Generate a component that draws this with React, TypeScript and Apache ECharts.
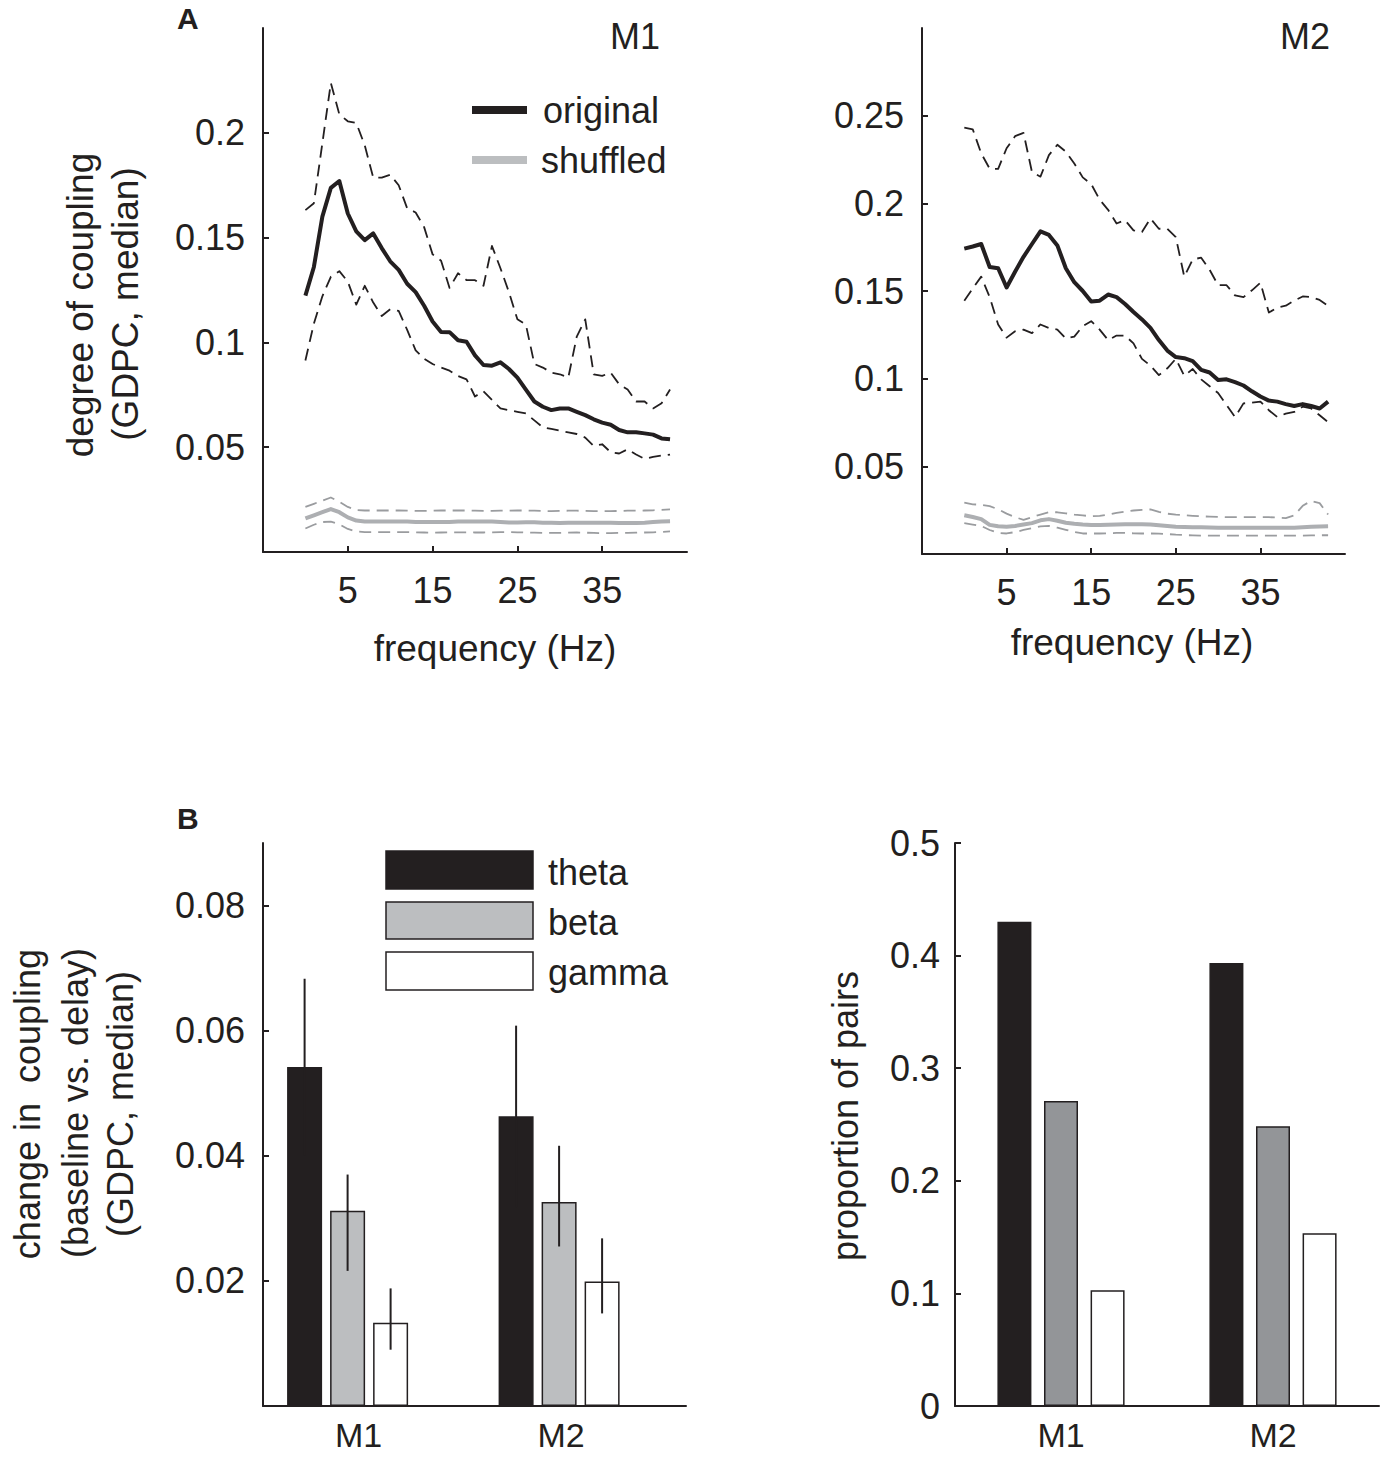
import React, { useEffect, useRef } from 'react';
import * as echarts from 'echarts';

const FONT = 'Liberation Sans, Arial, Helvetica, sans-serif';
const INK = '#231f20';
const GRAY_SOLID = '#adafb2';
const GRAY_DASH = '#9a9c9f';

// frequency (Hz)
const FREQS = [0, 1, 2, 3, 4, 5, 6, 7, 8, 9, 10, 11, 12, 13, 14, 15, 16, 17, 18, 19, 20, 21, 22, 23, 24, 25, 26, 27, 28, 29, 30, 31, 32, 33, 34, 35, 36, 37, 38, 39, 40, 41, 42, 43];
const FREQ_TICKS = [5, 15, 25, 35];

// M1
const M1_ORIG = [0.1223, 0.136, 0.160, 0.1737, 0.177, 0.1615, 0.153, 0.1488, 0.152, 0.145, 0.1387, 0.1346, 0.128, 0.124, 0.1175, 0.110, 0.105, 0.1049, 0.101, 0.1003, 0.0938, 0.0892, 0.0889, 0.0905, 0.0873, 0.0832, 0.0775, 0.0718, 0.0693, 0.0677, 0.0685, 0.0685, 0.0669, 0.0653, 0.0633, 0.0617, 0.0607, 0.0582, 0.0571, 0.0571, 0.0566, 0.056, 0.0542, 0.0538];
const M1_ORIG_HI = [0.1631, 0.1664, 0.195, 0.2238, 0.2088, 0.2055, 0.2047, 0.194, 0.1786, 0.1786, 0.18, 0.175, 0.164, 0.162, 0.155, 0.142, 0.139, 0.126, 0.133, 0.1297, 0.1297, 0.127, 0.146, 0.1354, 0.124, 0.111, 0.1085, 0.0897, 0.088, 0.0856, 0.0848, 0.0832, 0.1028, 0.111, 0.0848, 0.084, 0.0856, 0.080, 0.0775, 0.0718, 0.0718, 0.0685, 0.071, 0.0775];
const M1_ORIG_LO = [0.0914, 0.109, 0.122, 0.1313, 0.134, 0.129, 0.118, 0.127, 0.119, 0.1126, 0.1158, 0.115, 0.106, 0.0962, 0.0922, 0.0897, 0.088, 0.0865, 0.084, 0.0824, 0.0742, 0.0767, 0.0726, 0.0685, 0.0677, 0.0669, 0.0661, 0.0628, 0.0595, 0.0587, 0.0579, 0.0571, 0.0563, 0.0546, 0.0506, 0.0514, 0.0476, 0.047, 0.049, 0.0465, 0.0444, 0.0454, 0.046, 0.0465];
const M1_SHUF = [0.016, 0.0175, 0.019, 0.0205, 0.019, 0.0165, 0.015, 0.0145, 0.0145, 0.0145, 0.0145, 0.0145, 0.0145, 0.0143, 0.0143, 0.0143, 0.0143, 0.0143, 0.0145, 0.0146, 0.0146, 0.0146, 0.0145, 0.0143, 0.0141, 0.0141, 0.0142, 0.0142, 0.014, 0.0139, 0.0138, 0.0139, 0.014, 0.014, 0.014, 0.0139, 0.0139, 0.0138, 0.0138, 0.0138, 0.014, 0.0143, 0.0146, 0.0147];
const M1_SHUF_HI = [0.0215, 0.023, 0.0245, 0.026, 0.024, 0.0215, 0.02, 0.0198, 0.0198, 0.0198, 0.0198, 0.0198, 0.0197, 0.0196, 0.0196, 0.0197, 0.0198, 0.0198, 0.0198, 0.0198, 0.0197, 0.0196, 0.0196, 0.0197, 0.0197, 0.0198, 0.0198, 0.0197, 0.0196, 0.0195, 0.0196, 0.0197, 0.0197, 0.0196, 0.0195, 0.0195, 0.0195, 0.0196, 0.0197, 0.0197, 0.0198, 0.0199, 0.0201, 0.0203];
const M1_SHUF_LO = [0.0112, 0.013, 0.0143, 0.0145, 0.0132, 0.011, 0.0098, 0.0095, 0.0095, 0.0095, 0.0095, 0.0095, 0.0095, 0.0094, 0.0093, 0.0092, 0.0093, 0.0094, 0.0094, 0.0094, 0.0093, 0.0093, 0.0094, 0.0095, 0.0095, 0.0094, 0.0093, 0.0092, 0.0091, 0.0091, 0.0091, 0.0092, 0.0093, 0.0092, 0.0091, 0.009, 0.009, 0.0091, 0.0091, 0.0092, 0.0093, 0.0094, 0.0096, 0.0098];

// M2
const M2_ORIG = [0.1742, 0.1754, 0.1768, 0.1637, 0.163, 0.152, 0.161, 0.1695, 0.1768, 0.184, 0.182, 0.176, 0.163, 0.155, 0.150, 0.144, 0.1445, 0.148, 0.1465, 0.1426, 0.138, 0.1338, 0.129, 0.122, 0.116, 0.1123, 0.1117, 0.110, 0.105, 0.1035, 0.0992, 0.0996, 0.098, 0.0961, 0.0928, 0.0898, 0.0875, 0.0869, 0.0855, 0.0844, 0.0855, 0.0844, 0.083, 0.0869];
const M2_ORIG_HI = [0.2432, 0.2422, 0.2285, 0.2197, 0.2197, 0.2314, 0.2383, 0.2402, 0.2178, 0.2152, 0.2275, 0.2334, 0.2295, 0.2227, 0.2148, 0.211, 0.2021, 0.1963, 0.1885, 0.1904, 0.1846, 0.1836, 0.1914, 0.1855, 0.1855, 0.1807, 0.1582, 0.168, 0.169, 0.1621, 0.1533, 0.1533, 0.1475, 0.1465, 0.1504, 0.1547, 0.1377, 0.1406, 0.1416, 0.1445, 0.1469, 0.1465, 0.1449, 0.1416];
const M2_ORIG_LO = [0.1445, 0.1514, 0.1582, 0.1465, 0.1309, 0.1234, 0.127, 0.128, 0.126, 0.1309, 0.1289, 0.128, 0.123, 0.124, 0.1299, 0.1328, 0.128, 0.122, 0.1246, 0.1246, 0.1201, 0.1113, 0.1074, 0.102, 0.1059, 0.1113, 0.1016, 0.1055, 0.0996, 0.0957, 0.0918, 0.085, 0.0781, 0.0859, 0.0863, 0.0869, 0.082, 0.0781, 0.0801, 0.081, 0.084, 0.083, 0.0791, 0.0752];
const M2_SHUF = [0.0221, 0.0211, 0.0199, 0.0166, 0.0158, 0.0156, 0.016, 0.0168, 0.0176, 0.0192, 0.0199, 0.019, 0.0178, 0.0172, 0.0168, 0.0166, 0.0166, 0.0167, 0.0168, 0.017, 0.017, 0.0169, 0.0168, 0.0164, 0.016, 0.0156, 0.0154, 0.0153, 0.0152, 0.0151, 0.015, 0.015, 0.015, 0.015, 0.015, 0.015, 0.015, 0.015, 0.015, 0.015, 0.0152, 0.0155, 0.0157, 0.0158];
const M2_SHUF_HI = [0.0293, 0.0283, 0.0281, 0.0273, 0.0255, 0.023, 0.021, 0.0195, 0.021, 0.0225, 0.0238, 0.0238, 0.0232, 0.0225, 0.022, 0.0215, 0.0218, 0.0225, 0.0235, 0.0242, 0.0248, 0.0252, 0.0254, 0.024, 0.023, 0.0225, 0.0222, 0.0218, 0.0215, 0.0213, 0.0212, 0.021, 0.021, 0.021, 0.021, 0.021, 0.021, 0.0208, 0.0205, 0.022, 0.0275, 0.0303, 0.029, 0.0225];
const M2_SHUF_LO = [0.0176, 0.0168, 0.016, 0.0137, 0.012, 0.0117, 0.0125, 0.0137, 0.0148, 0.0158, 0.016, 0.015, 0.0138, 0.0125, 0.0117, 0.0117, 0.0117, 0.0118, 0.012, 0.012, 0.0118, 0.0117, 0.0117, 0.0116, 0.0114, 0.011, 0.0108, 0.0106, 0.0105, 0.0105, 0.0105, 0.0105, 0.0105, 0.0105, 0.0105, 0.0105, 0.0105, 0.0105, 0.0105, 0.0105, 0.0105, 0.0106, 0.0107, 0.0107];

const M1_YTICKS = [0.05, 0.1, 0.15, 0.2];
const M2_YTICKS = [0.05, 0.1, 0.15, 0.2, 0.25];

// Panel B
const GROUPS = ['M1', 'M2'];
const GROUP_X = [1, 2];
const BANDS = ['theta', 'beta', 'gamma'];

const CHANGE_THETA = [0.0542, 0.0463];
const CHANGE_THETA_LO = [0.0401, 0.0318];
const CHANGE_THETA_HI = [0.0683, 0.0608];
const CHANGE_BETA = [0.0312, 0.0326];
const CHANGE_BETA_LO = [0.0216, 0.0255];
const CHANGE_BETA_HI = [0.0370, 0.0416];
const CHANGE_GAMMA = [0.0133, 0.0199];
const CHANGE_GAMMA_LO = [0.0090, 0.0148];
const CHANGE_GAMMA_HI = [0.0188, 0.0268];
const CHANGE_YTICKS = [0.02, 0.04, 0.06, 0.08];

const PROP_THETA = [0.43, 0.3935];
const PROP_BETA = [0.2708, 0.2484];
const PROP_GAMMA = [0.1029, 0.1534];

function pairs(xs: number[], ys: number[]) {
  return xs.map((x, i) => [x, ys[i]]);
}

const DASH = [12, 7];

function lineSeries(idx: number, ys: number[], color: string, width: number, dashed: boolean, z: number) {
  return {
    type: 'line',
    xAxisIndex: idx,
    yAxisIndex: idx,
    data: pairs(FREQS, ys),
    showSymbol: false,
    symbol: 'none',
    silent: true,
    z,
    lineStyle: { color, width, type: dashed ? DASH : 'solid', cap: 'butt', join: 'round' },
  };
}

const tickLabel = { fontFamily: FONT, fontSize: 36, color: INK };
const axisLineStyle = { show: true, onZero: false, lineStyle: { color: INK, width: 2 } };

function freqXAxis(grid: number) {
  return {
    type: 'value',
    gridIndex: grid,
    min: -5,
    max: 45,
    axisLine: axisLineStyle,
    axisTick: { show: true, inside: true, length: 6, customValues: FREQ_TICKS, lineStyle: { color: INK, width: 2 } },
    axisLabel: { ...tickLabel, margin: 20, customValues: FREQ_TICKS },
    splitLine: { show: false },
  };
}

function valYAxis(grid: number, max: number, ticks: number[], margin: number) {
  return {
    type: 'value',
    gridIndex: grid,
    min: 0,
    max,
    axisLine: axisLineStyle,
    axisTick: { show: true, inside: true, length: 6, customValues: ticks, lineStyle: { color: INK, width: 2 } },
    axisLabel: { ...tickLabel, margin, customValues: ticks, formatter: (v: number) => String(Math.round(v * 1000) / 1000) },
    splitLine: { show: false },
  };
}

const BAR_COLORS_L = [INK, '#bcbec0', '#ffffff'];
const BAR_COLORS_R = [INK, '#939598', '#ffffff'];

function barSeries(idx: number, ys: number[], color: string, width: number, gap: string) {
  return {
    type: 'bar',
    xAxisIndex: idx,
    yAxisIndex: idx,
    data: pairs(GROUP_X, ys),
    barWidth: width,
    barGap: gap,
    silent: true,
    itemStyle: { color, borderColor: INK, borderWidth: 1.5 },
    z: 2,
  };
}

const L_BAR_W = 35;
const L_BAR_GAP = 8;

function errSeries(lo: number[], hi: number[], offset: number) {
  return {
    type: 'custom',
    xAxisIndex: 2,
    yAxisIndex: 2,
    silent: true,
    z: 6,
    data: GROUP_X.map((x, i) => [x, lo[i], hi[i]]),
    encode: { x: 0, y: [1, 2] },
    renderItem: (_p: any, api: any) => {
      const x = api.value(0);
      const a = api.coord([x, api.value(1)]);
      const b = api.coord([x, api.value(2)]);
      const px = a[0] + offset;
      return {
        type: 'line',
        shape: { x1: px, y1: a[1], x2: px, y2: b[1] },
        style: { stroke: INK, lineWidth: 2 },
      };
    },
  };
}

function txt(text: string, x: number, y: number, size: number, extra: any = {}) {
  return {
    type: 'text',
    x,
    y,
    silent: true,
    style: { text, fill: INK, fontSize: size, fontFamily: FONT, align: 'left', verticalAlign: 'middle', ...extra },
  };
}

function vtxt(text: string, x: number, y: number, size: number) {
  return {
    type: 'text',
    x,
    y,
    rotation: Math.PI / 2,
    silent: true,
    style: { text, fill: INK, fontSize: size, fontFamily: FONT, align: 'center', verticalAlign: 'middle' },
  };
}

const catLabel = { ...tickLabel, fontSize: 34, lineHeight: 34 };

const option: any = {
  animation: false,
  backgroundColor: '#ffffff',
  grid: [
    { left: 263, top: 28, width: 424, height: 524 },
    { left: 922, top: 28, width: 423, height: 526 },
    { left: 263, top: 843, width: 423, height: 563 },
    { left: 955, top: 843, width: 424, height: 563 },
  ],
  xAxis: [
    freqXAxis(0),
    freqXAxis(1),
    {
      type: 'value',
      gridIndex: 2,
      min: 0.6,
      max: 2.6,
      axisLine: axisLineStyle,
      axisTick: { show: false },
      axisLabel: {
        ...catLabel,
        margin: 12,
        customValues: GROUP_X,
        formatter: (v: number) => (v === 1 ? '{a|' + GROUPS[0] + '}' : '{b|' + GROUPS[1] + '}'),
        rich: {
          a: { ...catLabel, padding: [0, 0, 0, 22] },
          b: { ...catLabel, padding: [0, 0, 0, 4] },
        },
      },
      splitLine: { show: false },
    },
    {
      type: 'value',
      gridIndex: 3,
      min: 0.5,
      max: 2.5,
      axisLine: axisLineStyle,
      axisTick: { show: false },
      axisLabel: { ...catLabel, margin: 12, customValues: GROUP_X, formatter: (v: number) => GROUPS[v - 1] },
      splitLine: { show: false },
    },
  ],
  yAxis: [
    valYAxis(0, 0.25, M1_YTICKS, 18),
    valYAxis(1, 0.3, M2_YTICKS, 18),
    valYAxis(2, 0.09, CHANGE_YTICKS, 18),
    {
      type: 'value',
      gridIndex: 3,
      min: 0,
      max: 0.5,
      interval: 0.1,
      axisLine: axisLineStyle,
      axisTick: { show: true, inside: true, length: 6, lineStyle: { color: INK, width: 2 } },
      axisLabel: { ...tickLabel, margin: 15, formatter: (v: number) => String(Math.round(v * 10) / 10) },
      splitLine: { show: false },
    },
  ],
  series: [
    lineSeries(0, M1_SHUF_HI, GRAY_DASH, 1.8, true, 2),
    lineSeries(0, M1_SHUF_LO, GRAY_DASH, 1.8, true, 2),
    lineSeries(0, M1_SHUF, GRAY_SOLID, 4, false, 3),
    lineSeries(0, M1_ORIG_HI, INK, 1.8, true, 4),
    lineSeries(0, M1_ORIG_LO, INK, 1.8, true, 4),
    lineSeries(0, M1_ORIG, INK, 4, false, 5),

    lineSeries(1, M2_SHUF_HI, GRAY_DASH, 1.8, true, 2),
    lineSeries(1, M2_SHUF_LO, GRAY_DASH, 1.8, true, 2),
    lineSeries(1, M2_SHUF, GRAY_SOLID, 4, false, 3),
    lineSeries(1, M2_ORIG_HI, INK, 1.8, true, 4),
    lineSeries(1, M2_ORIG_LO, INK, 1.8, true, 4),
    lineSeries(1, M2_ORIG, INK, 4, false, 5),

    { ...barSeries(2, CHANGE_THETA, BAR_COLORS_L[0], L_BAR_W, (L_BAR_GAP / L_BAR_W) * 100 + '%'), name: BANDS[0] },
    { ...barSeries(2, CHANGE_BETA, BAR_COLORS_L[1], L_BAR_W, (L_BAR_GAP / L_BAR_W) * 100 + '%'), name: BANDS[1] },
    { ...barSeries(2, CHANGE_GAMMA, BAR_COLORS_L[2], L_BAR_W, (L_BAR_GAP / L_BAR_W) * 100 + '%'), name: BANDS[2] },
    errSeries(CHANGE_THETA_LO, CHANGE_THETA_HI, -(L_BAR_W + L_BAR_GAP)),
    errSeries(CHANGE_BETA_LO, CHANGE_BETA_HI, 0),
    errSeries(CHANGE_GAMMA_LO, CHANGE_GAMMA_HI, L_BAR_W + L_BAR_GAP),

    { ...barSeries(3, PROP_THETA, BAR_COLORS_R[0], 34, '37%'), name: BANDS[0] + ' ' },
    { ...barSeries(3, PROP_BETA, BAR_COLORS_R[1], 34, '37%'), name: BANDS[1] + ' ' },
    { ...barSeries(3, PROP_GAMMA, BAR_COLORS_R[2], 34, '37%'), name: BANDS[2] + ' ' },
  ],
  graphic: [
    // panel letters
    txt('A', 177, 18, 30, { fontWeight: 'bold' }),
    txt('B', 177, 818, 30, { fontWeight: 'bold' }),
    // panel titles
    txt('M1', 660, 36, 36, { align: 'right' }),
    txt('M2', 1330, 36, 36, { align: 'right' }),
    // legend A
    { type: 'line', silent: true, shape: { x1: 472, y1: 110, x2: 527, y2: 110 }, style: { stroke: INK, lineWidth: 8 } },
    txt('original', 543, 110, 36),
    { type: 'line', silent: true, shape: { x1: 472, y1: 160, x2: 527, y2: 160 }, style: { stroke: '#bcbec0', lineWidth: 8 } },
    txt('shuffled', 541, 160, 36),
    // axis titles A
    vtxt('degree of coupling', 80, 305, 37),
    vtxt('(GDPC, median)', 125, 304, 37),
    txt('frequency (Hz)', 495, 648, 37, { align: 'center' }),
    txt('frequency (Hz)', 1132, 642, 37, { align: 'center' }),
    // legend B
    { type: 'rect', silent: true, shape: { x: 386, y: 851, width: 147, height: 38 }, style: { fill: INK, stroke: INK, lineWidth: 1.5 } },
    { type: 'rect', silent: true, shape: { x: 386, y: 902, width: 147, height: 37 }, style: { fill: '#bcbec0', stroke: INK, lineWidth: 1.5 } },
    { type: 'rect', silent: true, shape: { x: 386, y: 952, width: 147, height: 38 }, style: { fill: '#ffffff', stroke: INK, lineWidth: 1.5 } },
    txt('theta', 548, 872, 36),
    txt('beta', 548, 922, 36),
    txt('gamma', 548, 972, 36),
    // axis titles B
    vtxt('change in  coupling', 27, 1104, 36),
    vtxt('(baseline vs. delay)', 75, 1103, 36),
    vtxt('(GDPC, median)', 120, 1104, 36),
    vtxt('proportion of pairs', 845, 1116, 36),
  ],
};

export default function App() {
  const ref = useRef<HTMLDivElement>(null);
  useEffect(() => {
    if (!ref.current) return;
    const chart = echarts.init(ref.current, null, { renderer: 'svg' });
    chart.setOption(option);
    return () => chart.dispose();
  }, []);
  return (
    <div
      ref={ref}
      style={{ position: 'absolute', left: 0, top: 0, width: 1380, height: 1457, background: '#ffffff' }}
    />
  );
}
